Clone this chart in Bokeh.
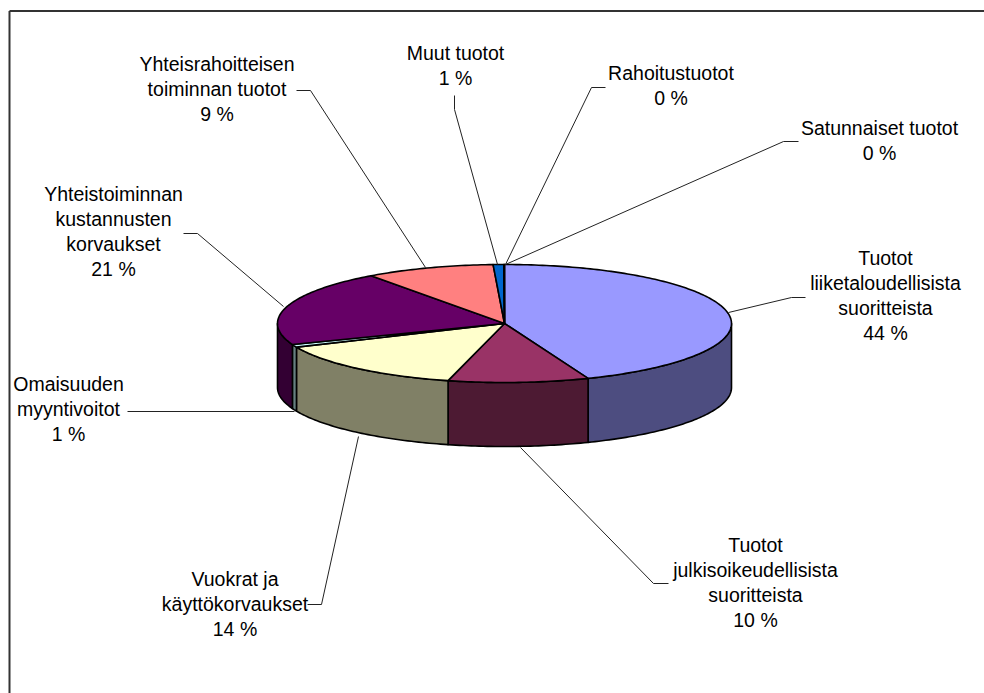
import numpy as np
from bokeh.plotting import figure
from bokeh.models import Range1d, ColumnDataSource
from bokeh.core.properties import value
from bokeh.embed import file_html
from bokeh.resources import INLINE

# --- data (shown labels are the rounded shares) ---
categories = [
    ["Tuotot", "liiketaloudellisista", "suoritteista"],
    ["Tuotot", "julkisoikeudellisista", "suoritteista"],
    ["Vuokrat ja", "käyttökorvaukset"],
    ["Omaisuuden", "myyntivoitot"],
    ["Yhteistoiminnan", "kustannusten", "korvaukset"],
    ["Yhteisrahoitteisen", "toiminnan tuotot"],
    ["Muut tuotot"],
    ["Rahoitustuotot"],
    ["Satunnaiset tuotot"],
]
shares = [44.0, 10.0, 14.45, 0.75, 20.8, 9.2, 0.75, 0.03, 0.02]
percent_labels = ["44 %", "10 %", "14 %", "1 %", "21 %", "9 %", "1 %", "0 %", "0 %"]

# --- styles and layout (page pixels) ---
top_colors = ["#9999FF", "#993366", "#FFFFCC", "#CCFFFF", "#660066", "#FF8080", "#0066CC", "#CCCCFF", "#000080"]
side_colors = ["#4D4D80", "#4D1A33", "#808066", "#668080", "#330033", "#804040", "#003366", "#666680", "#000040"]
CX, CY, RX, RY, DEPTH = 504.0, 323.0, 227.0, 59.0, 64.0
label_centers = [(885, 257), (755, 544), (234.5, 578), (68, 383), (113, 193), (216.5, 63), (455, 52), (670.5, 72), (879, 127)]
LINE_STEP = 25
leader_xs = [[805, 791, 728], [668, 653, 520], [307, 321, 358], [127, 294], [183, 197, 283],
             [296, 310, 425], [454, 454, 497], [605, 591, 505], [798, 783, 505]]
leader_ys = [[297, 297, 312], [583, 583, 447], [604, 604, 436], [411, 411], [233, 233, 306],
             [90, 90, 267], [95, 109, 264], [87, 87, 264], [141, 141, 264]]

p = figure(width=984, height=693, output_backend="svg", toolbar_location=None,
           x_range=Range1d(0, 984), y_range=Range1d(693, 0), min_border=0,
           outline_line_color=None, background_fill_color="white")
p.axis.visible = False
p.grid.visible = False

# chart frame: open on the right and bottom, as in the reference crop
p.multi_line(xs=[[9, 9], [9, 984]], ys=[[693, 10.5], [10.5, 10.5]], line_color="#333333", line_width=2)

# slices from values
ends = np.cumsum(shares) / np.sum(shares) * 2 * np.pi
starts = np.concatenate([[0.0], ends[:-1]])

def ell(t):
    return CX + RX * np.sin(t), CY - RY * np.cos(t)

side_x, side_y, side_c = [], [], []
top_x, top_y, top_c = [], [], []
for a, b, ct, cs in zip(starts, ends, top_colors, side_colors):
    t = np.linspace(a, b, max(3, int((b - a) * 60)))
    x, y = ell(t)
    top_x.append(np.concatenate([[CX], x]))
    top_y.append(np.concatenate([[CY], y]))
    top_c.append(ct)
    lo, hi = max(a, np.pi / 2), min(b, 3 * np.pi / 2)
    if hi > lo:
        t2 = np.linspace(lo, hi, max(3, int((hi - lo) * 60)))
        x2, y2 = ell(t2)
        side_x.append(np.concatenate([x2, x2[::-1]]))
        side_y.append(np.concatenate([y2, y2[::-1] + DEPTH]))
        side_c.append(cs)

p.patches(side_x, side_y, fill_color=side_c, line_color="black", line_width=1.6, line_join="round")
p.patches(top_x, top_y, fill_color=top_c, line_color="black", line_width=1.6, line_join="round")

# leaders
p.multi_line(leader_xs, leader_ys, line_color="#222222", line_width=1)

# labels
tx, ty, tt = [], [], []
for lines, pct, (lx, ly) in zip(categories, percent_labels, label_centers):
    for i, s in enumerate(lines + [pct]):
        tx.append(lx)
        ty.append(ly + i * LINE_STEP)
        tt.append(s)
p.text(x="x", y="y", text="t", source=ColumnDataSource(dict(x=tx, y=ty, t=tt)),
       text_font=value("Liberation Sans"), text_font_size="19.5px", text_color="black",
       text_align="center", text_baseline="middle")

open("out.html", "w").write(file_html(p, INLINE))
